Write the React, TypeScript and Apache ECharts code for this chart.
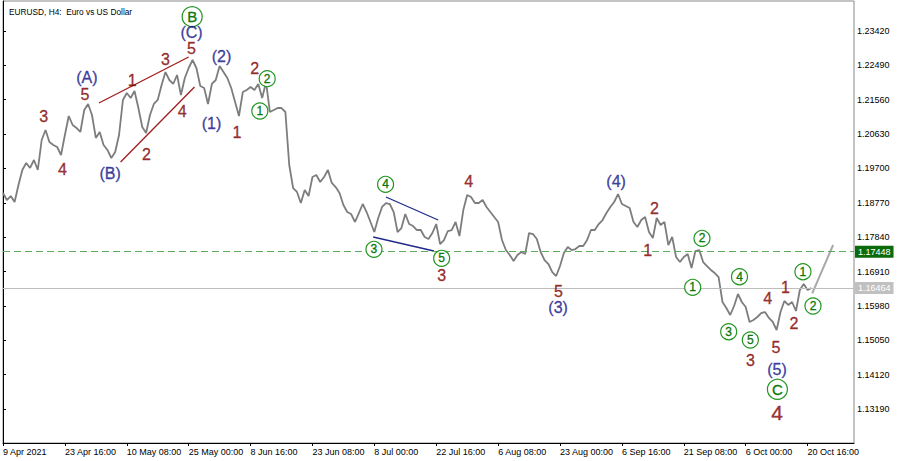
import { useEffect, useRef } from 'react';
import * as echarts from 'echarts';

const chartTitle = 'EURUSD, H4:  Euro vs US Dollar';

const tickLabels = [
  '9 Apr 2021', '23 Apr 16:00', '10 May 08:00', '25 May 00:00', '8 Jun 16:00',
  '23 Jun 08:00', '8 Jul 00:00', '22 Jul 16:00', '6 Aug 08:00', '23 Aug 00:00',
  '6 Sep 16:00', '21 Sep 08:00', '6 Oct 00:00', '20 Oct 16:00',
];
const pointsPerTick = 16;

const priceTicks = [
  1.1319, 1.1412, 1.1505, 1.1598, 1.1691, 1.1784,
  1.1877, 1.197, 1.2063, 1.2156, 1.2249, 1.2342,
];

const closes = [
  1.19035, 1.18846, 1.18954, 1.18792, 1.19252, 1.19659, 1.19848, 1.19713, 1.19929, 1.19659,
  1.20470, 1.20741, 1.20416, 1.20335, 1.20281, 1.20064, 1.20606, 1.21120, 1.20876, 1.20795,
  1.20687, 1.21282, 1.21445, 1.21147, 1.20525, 1.20687, 1.20335, 1.20200, 1.19983, 1.20146,
  1.20606, 1.21553, 1.21742, 1.21607, 1.21796, 1.21336, 1.20822, 1.20660, 1.21147, 1.21445,
  1.21553, 1.21959, 1.22310, 1.22094, 1.21986, 1.22229, 1.21688, 1.22148, 1.22419, 1.22635,
  1.22419, 1.21931, 1.21877, 1.21445, 1.21986, 1.22094, 1.22473, 1.22310, 1.22148, 1.21877,
  1.21499, 1.21120, 1.21769, 1.21823, 1.21904, 1.21823, 1.21986, 1.21607, 1.22040, 1.21228,
  1.21282, 1.21336, 1.21336, 1.21228, 1.19794, 1.19171, 1.19063, 1.18765, 1.19117, 1.18954,
  1.19469, 1.19523, 1.19334, 1.19469, 1.19659, 1.19307, 1.19198, 1.19035, 1.18711, 1.18521,
  1.18467, 1.18251, 1.18494, 1.18738, 1.18521, 1.18251, 1.17980, 1.18359, 1.18657, 1.18765,
  1.18738, 1.18521, 1.17980, 1.18088, 1.18467, 1.18196, 1.18142, 1.18034, 1.18034, 1.17845,
  1.17791, 1.17953, 1.18196, 1.17655, 1.17763, 1.18007, 1.18034, 1.18251, 1.17872, 1.18575,
  1.18981, 1.18927, 1.18765, 1.18765, 1.18846, 1.18657, 1.18521, 1.18386, 1.18251, 1.17763,
  1.17493, 1.17357, 1.17195, 1.17357, 1.17439, 1.17385, 1.17953, 1.17926, 1.17791, 1.17439,
  1.17222, 1.17114, 1.16897, 1.16789, 1.17060, 1.17412, 1.17574, 1.17493, 1.17520, 1.17601,
  1.17601, 1.17763, 1.18034, 1.18034, 1.18196, 1.18305, 1.18494, 1.18657, 1.18792, 1.19008,
  1.18738, 1.18684, 1.18629, 1.18251, 1.18115, 1.18305, 1.18386, 1.17980, 1.17818, 1.18359,
  1.18169, 1.18251, 1.17628, 1.17845, 1.17303, 1.17168, 1.17303, 1.17385, 1.17006, 1.17466,
  1.17493, 1.17168, 1.17060, 1.16952, 1.16870, 1.16762, 1.16086, 1.15923, 1.15734, 1.15978,
  1.16302, 1.16086, 1.15951, 1.15545, 1.15599, 1.15680, 1.15788, 1.15815, 1.15653, 1.15545,
  1.15328, 1.15815, 1.16113, 1.16005, 1.16086, 1.15842, 1.16410, 1.16573, 1.16410, 1.16464,
];

const supportLevel = 1.17448;
const lastPrice = 1.16464;

// wave annotations: [text, bar index, price]
const redLabels: [string, number, number][] = [
  ['3', 10.5, 1.21101], ['4', 15.4, 1.19677], ['5', 21.2, 1.21715],
  ['1', 33.4, 1.22075], ['2', 37.1, 1.20091], ['3', 42.0, 1.22654],
  ['4', 46.3, 1.21236], ['5', 48.75, 1.22947], ['1', 60.5, 1.20668],
  ['2', 65.1, 1.22411], ['4', 120.4, 1.19342], ['3', 113.4, 1.16816],
  ['5', 143.6, 1.1637], ['2', 168.4, 1.18622], ['1', 166.7, 1.17474],
  ['3', 193.2, 1.14497], ['4', 197.7, 1.16186], ['5', 199.8, 1.1486],
  ['1', 202.3, 1.16483], ['2', 204.5, 1.15509],
];
const bigRedLabels: [string, number, number][] = [['4', 200.1, 1.1309]];
const blueLabels: [string, number, number][] = [
  ['(A)', 21.7, 1.22166], ['(B)', 27.7, 1.19568], ['(C)', 48.75, 1.23366],
  ['(2)', 56.5, 1.22743], ['(1)', 53.9, 1.20921], ['(3)', 143.5, 1.15937],
  ['(4)', 158.5, 1.19342], ['(5)', 200.1, 1.14264],
];
const greenCircles: [string, number, number][] = [
  ['2', 68.3, 1.2213], ['1', 66.4, 1.21255], ['4', 98.9, 1.1927],
  ['3', 95.9, 1.17511], ['5', 113.4, 1.17268], ['2', 180.7, 1.17809],
  ['1', 178.3, 1.16483], ['3', 187.6, 1.15282], ['4', 190.4, 1.16771],
  ['5', 193.2, 1.15057], ['1', 206.8, 1.16906], ['2', 209.4, 1.15977],
];
const bigGreenCircles: [string, number, number][] = [['B', 48.9, 1.23808], ['C', 200.2, 1.13723]];

const redLines: [number, number][][] = [
  [[24.8, 1.21472], [48.0, 1.22716]],
  [[30.4, 1.19875], [49.5, 1.21904]],
];
const blueLines: [number, number][][] = [
  [[99.0, 1.18927], [112.5, 1.18305]],
  [[95.7, 1.17845], [111.4, 1.17466]],
];
const projection: [number, number][] = [[209.2, 1.16321], [214.6, 1.17628]];

const FONT = '"Liberation Sans", Arial, sans-serif';
const RED = '#800000';
const BLUE = '#14148a';
const GREEN = '#087808';
const GREEN_RING = '#229622';

export default function App() {
  const ref = useRef<HTMLDivElement>(null);
  useEffect(() => {
    if (!ref.current) return;
    const chart = echarts.init(ref.current, undefined, { renderer: 'svg' });
    const tickValues = tickLabels.map((_, k) => k * pointsPerTick);

    const textSeries = (rows: [string, number, number][], color: string, size: number) => ({
      type: 'scatter',
      data: rows.map(([t, x, y]) => [x, y, t]),
      symbolSize: 1,
      itemStyle: { color: 'rgba(0,0,0,0)' },
      z: 5,
      label: {
        show: true, position: 'inside', formatter: (p: any) => p.value[2],
        color, fontSize: size, fontFamily: FONT, lineHeight: Math.round(size * 0.8),
        textBorderColor: color, textBorderWidth: 0.35,
      },
    });
    const circleSeries = (rows: [string, number, number][], size: number, fontSize: number) => ({
      type: 'scatter',
      data: rows.map(([t, x, y]) => [x, y, t]),
      symbol: 'circle',
      symbolSize: size,
      itemStyle: { color: '#ffffff', borderColor: GREEN_RING, borderWidth: 1.2, opacity: 1 },
      z: 5,
      label: {
        show: true, position: 'inside', formatter: (p: any) => p.value[2],
        color: GREEN, fontSize, fontFamily: FONT, textBorderColor: GREEN, textBorderWidth: 0.3,
      },
    });
    const segSeries = (pts: [number, number][], color: string, width: number) => ({
      type: 'line',
      data: pts,
      showSymbol: false,
      symbol: 'none',
      lineStyle: { color, width },
      z: 4,
    });

    chart.setOption({
      animation: false,
      backgroundColor: '#ffffff',
      title: {
        text: chartTitle, left: 4, top: 3,
        textStyle: { fontSize: 8.3, fontWeight: 'normal', color: '#000', fontFamily: FONT },
      },
      grid: { left: 1, top: 1, right: 46, bottom: 18, show: true, borderColor: '#8a8a8a', borderWidth: 1 },
      xAxis: {
        type: 'value', min: 0, max: 220,
        axisLine: { show: true, onZero: false, lineStyle: { color: '#000' } },
        axisTick: { show: true, length: 3, customValues: tickValues, lineStyle: { color: '#000' } },
        axisLabel: {
          customValues: tickValues, align: 'left', margin: 4, fontSize: 9, color: '#000', fontFamily: FONT,
          formatter: (v: number) => tickLabels[Math.round(v / pointsPerTick)] ?? '',
        },
        splitLine: { show: false },
      },
      yAxis: {
        type: 'value', position: 'right', min: 1.1227, max: 1.24232, scale: true,
        axisLine: { show: true, lineStyle: { color: '#000' } },
        axisTick: { show: true, length: 3, customValues: priceTicks, lineStyle: { color: '#000' } },
        axisLabel: {
          customValues: priceTicks, margin: 3, fontSize: 9, color: '#000', fontFamily: FONT,
          formatter: (v: number) => v.toFixed(5),
        },
        splitLine: { show: false },
      },
      series: [
        {
          type: 'line',
          data: closes.map((c, i) => [i, c]),
          showSymbol: false,
          symbol: 'none',
          lineStyle: { color: '#7d7d7d', width: 1.8 },
          z: 3,
          markLine: {
            silent: true,
            precision: 5,
            symbol: ['none', 'none'],
            label: { show: false },
            data: [
              {
                yAxis: supportLevel,
                lineStyle: { color: '#5faa5f', type: [7, 4], width: 1 },
                label: {
                  show: true, position: 'end', distance: 1, formatter: supportLevel.toFixed(5),
                  color: '#fff', backgroundColor: '#0b6b0b', padding: [2, 3, 1, 3], fontSize: 9, fontFamily: FONT,
                },
              },
              {
                yAxis: lastPrice,
                lineStyle: { color: '#bdbdbd', type: 'solid', width: 1 },
                label: {
                  show: true, position: 'end', distance: 1, formatter: lastPrice.toFixed(5),
                  color: '#fff', backgroundColor: '#c0c0c0', padding: [2, 3, 1, 3], fontSize: 9, fontFamily: FONT,
                },
              },
            ],
          },
        },
        ...redLines.map((l) => segSeries(l, '#a01c1c', 1.3)),
        ...blueLines.map((l) => segSeries(l, '#1f2a8c', 1.3)),
        segSeries(projection, '#a8a8a8', 2),
        textSeries(redLabels, RED, 16),
        textSeries(bigRedLabels, RED, 21),
        textSeries(blueLabels, BLUE, 16),
        circleSeries(greenCircles, 16, 12),
        circleSeries(bigGreenCircles, 20, 15),
      ],
    });
    return () => chart.dispose();
  }, []);
  return <div ref={ref} style={{ position: 'fixed', left: 0, top: 0, width: 900, height: 461 }} />;
}
